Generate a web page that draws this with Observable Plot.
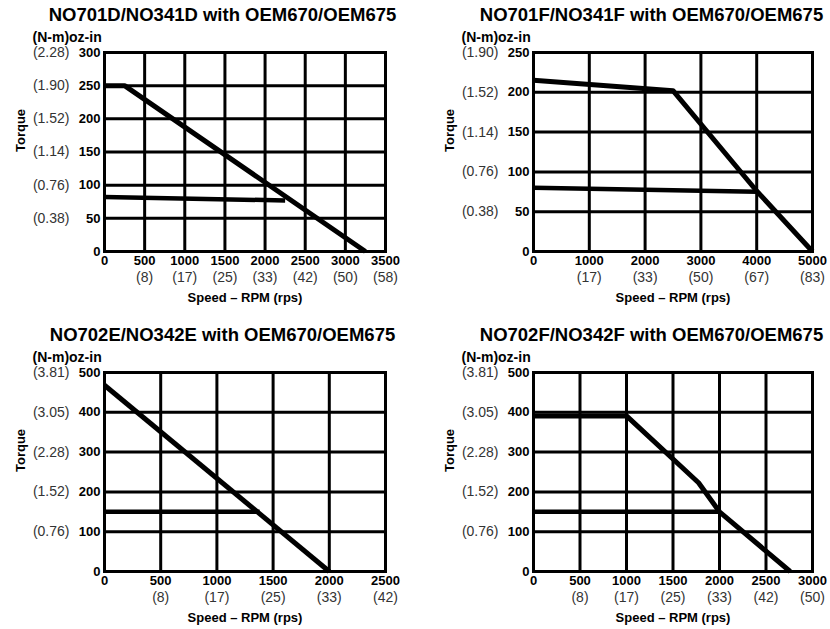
<!DOCTYPE html>
<html>
<head>
<meta charset="utf-8">
<script src="https://cdn.jsdelivr.net/npm/d3@7"></script>
<script src="https://cdn.jsdelivr.net/npm/@observablehq/plot@0.6"></script>
<style>
  html, body { margin: 0; padding: 0; background: #fff; }
  #wrap { position: relative; width: 830px; height: 629px; overflow: hidden; background: #fff; }
  #wrap svg { position: absolute; overflow: visible; background: transparent; }
</style>
</head>
<body>
<div id="wrap"></div>
<script>
// ---- Titles ----
const titles = [
  "NO701D/NO341D with OEM670/OEM675",
  "NO701F/NO341F with OEM670/OEM675",
  "NO702E/NO342E with OEM670/OEM675",
  "NO702F/NO342F with OEM670/OEM675"
];

// ---- Axis ticks (oz-in / RPM) and secondary labels (N-m / rps) ----
const xTicks1 = [0, 500, 1000, 1500, 2000, 2500, 3000, 3500];
const rpsLabels1 = ["", "(8)", "(17)", "(25)", "(33)", "(42)", "(50)", "(58)"];
const yTicks1 = [0, 50, 100, 150, 200, 250, 300];
const nmLabels1 = ["", "(0.38)", "(0.76)", "(1.14)", "(1.52)", "(1.90)", "(2.28)"];

const xTicks2 = [0, 1000, 2000, 3000, 4000, 5000];
const rpsLabels2 = ["", "(17)", "(33)", "(50)", "(67)", "(83)"];
const yTicks2 = [0, 50, 100, 150, 200, 250];
const nmLabels2 = ["", "(0.38)", "(0.76)", "(1.14)", "(1.52)", "(1.90)"];

const xTicks3 = [0, 500, 1000, 1500, 2000, 2500];
const rpsLabels3 = ["", "(8)", "(17)", "(25)", "(33)", "(42)"];
const yTicks3 = [0, 100, 200, 300, 400, 500];
const nmLabels3 = ["", "(0.76)", "(1.52)", "(2.28)", "(3.05)", "(3.81)"];

const xTicks4 = [0, 500, 1000, 1500, 2000, 2500, 3000];
const rpsLabels4 = ["", "(8)", "(17)", "(25)", "(33)", "(42)", "(50)"];
const yTicks4 = [0, 100, 200, 300, 400, 500];
const nmLabels4 = ["", "(0.76)", "(1.52)", "(2.28)", "(3.05)", "(3.81)"];

// ---- Torque curves (speed RPM, torque oz-in) ----
const p1UpperSpeed = [0, 250, 3250];
const p1UpperTorque = [250, 250, 0];
const p1LowerSpeed = [0, 2250];
const p1LowerTorque = [82, 77];

const p2UpperSpeed = [0, 2500, 4000, 5000];
const p2UpperTorque = [215, 202, 76, 0];
const p2LowerSpeed = [0, 4000];
const p2LowerTorque = [80, 75];

const p3UpperSpeed = [0, 2000];
const p3UpperTorque = [468, 0];
const p3LowerSpeed = [0, 1380];
const p3LowerTorque = [150, 150];

const p4UpperSpeed = [0, 1000, 1775, 2000, 2760];
const p4UpperTorque = [391, 391, 223, 150, 0];
const p4LowerSpeed = [0, 2000];
const p4LowerTorque = [150, 150];

const FONT = "'Liberation Sans', Arial, Helvetica, sans-serif";

function zip(xs, ys) { return xs.map((x, i) => ({speed: x, torque: ys[i]})); }

function panel({title, xTicks, rps, yTicks, nm, upper, lower, left, top, ml, mr, height}) {
  const xMax = xTicks[xTicks.length - 1];
  const yMax = yTicks[yTicks.length - 1];
  const svg = Plot.plot({
    width: 415,
    height,
    marginLeft: ml,
    marginRight: mr,
    marginTop: 52,
    marginBottom: height - 52 - 199,
    style: {fontFamily: FONT, background: "transparent", overflow: "visible"},
    x: {domain: [0, xMax], axis: null},
    y: {domain: [0, yMax], axis: null},
    marks: [
      Plot.gridX(xTicks, {stroke: "#000", strokeOpacity: 1, strokeWidth: 3}),
      Plot.gridY(yTicks, {stroke: "#000", strokeOpacity: 1, strokeWidth: 3}),
      Plot.frame({stroke: "#000", strokeWidth: 3}),
      Plot.line(lower, {x: "speed", y: "torque", stroke: "#000", strokeWidth: 4.5, strokeLinecap: "butt"}),
      Plot.line(upper, {x: "speed", y: "torque", stroke: "#000", strokeWidth: 5, strokeLinecap: "butt"}),
      // x tick numbers
      Plot.text(xTicks, {x: d => d, text: d => String(d), frameAnchor: "bottom", lineAnchor: "middle", dy: 9,
        fontSize: 13, fontWeight: "bold", fill: "#000"}),
      // rps labels
      Plot.text(xTicks.map((d, i) => ({v: d, t: rps[i]})), {x: "v", text: "t", frameAnchor: "bottom", lineAnchor: "middle", dy: 26,
        fontSize: 14, fill: "#333"}),
      // y tick numbers
      Plot.text(yTicks, {y: d => d, text: d => String(d), frameAnchor: "left", lineAnchor: "middle", dx: -4, textAnchor: "end",
        fontSize: 13, fontWeight: "bold", fill: "#000"}),
      // N-m labels
      Plot.text(yTicks.map((d, i) => ({v: d, t: nm[i]})), {y: "v", text: "t", frameAnchor: "left", lineAnchor: "middle", dx: -35, textAnchor: "end",
        fontSize: 14, fill: "#333"}),
      // title
      Plot.text([title], {frameAnchor: "top-left", lineAnchor: "middle", dx: 118, dy: -37, textAnchor: "middle",
        fontSize: 18.5, fontWeight: "bold", fill: "#000"}),
      // units header
      Plot.text(["(N-m)oz-in"], {frameAnchor: "top-left", lineAnchor: "middle", dx: -72, dy: -15, textAnchor: "start",
        fontSize: 14, fontWeight: "bold", fill: "#000"}),
      // y axis title
      Plot.text(["Torque"], {frameAnchor: "left", lineAnchor: "middle", dx: -84, rotate: -90,
        fontSize: 13, fontWeight: "bold", fill: "#000"}),
      // x axis title
      Plot.text(["Speed – RPM (rps)"], {frameAnchor: "bottom", lineAnchor: "middle", dy: 46,
        fontSize: 13, fontWeight: "bold", fill: "#000"})
    ]
  });
  svg.style.left = left + "px";
  svg.style.top = top + "px";
  document.getElementById("wrap").appendChild(svg);
}

panel({title: titles[0], xTicks: xTicks1, rps: rpsLabels1, yTicks: yTicks1, nm: nmLabels1,
  upper: zip(p1UpperSpeed, p1UpperTorque), lower: zip(p1LowerSpeed, p1LowerTorque),
  left: 0, top: 0, ml: 104, mr: 30, height: 310});
panel({title: titles[1], xTicks: xTicks2, rps: rpsLabels2, yTicks: yTicks2, nm: nmLabels2,
  upper: zip(p2UpperSpeed, p2UpperTorque), lower: zip(p2LowerSpeed, p2LowerTorque),
  left: 415, top: 0, ml: 118, mr: 18, height: 310});
panel({title: titles[2], xTicks: xTicks3, rps: rpsLabels3, yTicks: yTicks3, nm: nmLabels3,
  upper: zip(p3UpperSpeed, p3UpperTorque), lower: zip(p3LowerSpeed, p3LowerTorque),
  left: 0, top: 320, ml: 104, mr: 30, height: 309});
panel({title: titles[3], xTicks: xTicks4, rps: rpsLabels4, yTicks: yTicks4, nm: nmLabels4,
  upper: zip(p4UpperSpeed, p4UpperTorque), lower: zip(p4LowerSpeed, p4LowerTorque),
  left: 415, top: 320, ml: 118, mr: 18, height: 309});
</script>
</body>
</html>
